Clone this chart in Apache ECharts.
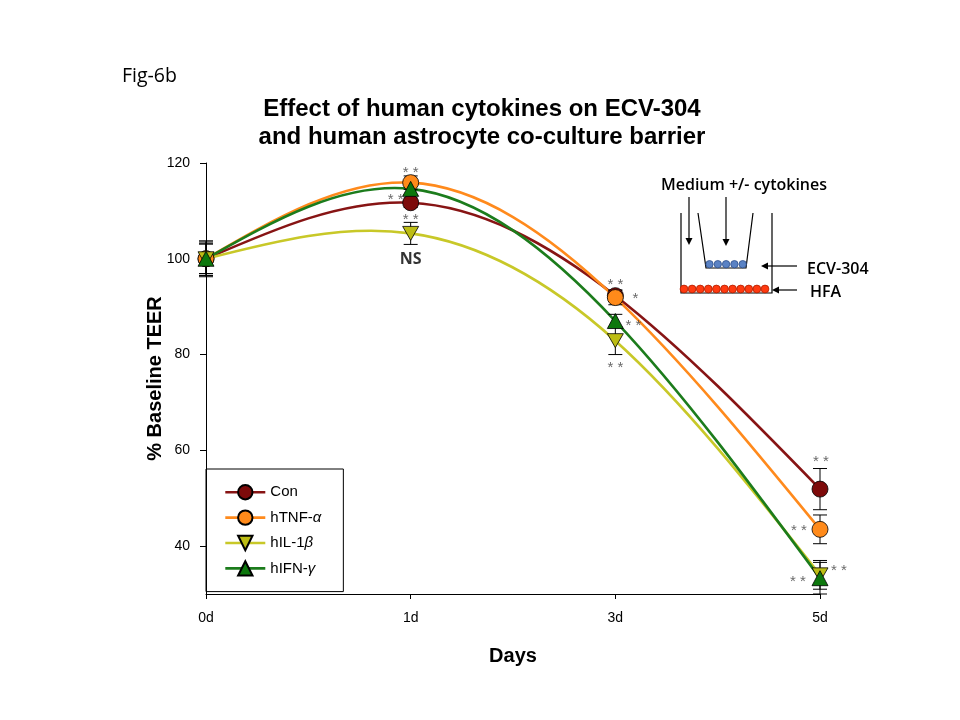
<!DOCTYPE html>
<html>
<head>
<meta charset="utf-8">
<script src="https://cdn.jsdelivr.net/npm/echarts@6/dist/echarts.min.js"></script>
<style>
html,body{margin:0;padding:0;background:#fff;}
#chart{width:960px;height:720px;}
</style>
</head>
<body>
<div id="chart"></div>
<script>
// ---------- data ----------
const days = ['0d', '1d', '3d', '5d'];
const seriesNames = ['Con', 'hTNF-α', 'hIL-1β', 'hIFN-γ'];
const conValues  = [100, 111.7, 92.3, 51.9];
const conErrors  = [3.5, 1.0, 1.2, 4.3];
const tnfValues  = [100, 115.9, 91.9, 43.5];
const tnfErrors  = [3.1, 1.4, 1.5, 3.0];
const il1bValues = [100, 105.3, 82.9, 34.0];
const il1bErrors = [3.1, 2.3, 2.9, 3.0];
const ifngValues = [100, 114.6, 87.0, 33.3];
const ifngErrors = [3.75, 1.2, 1.4, 3.3];
const yTicks = [40, 60, 80, 100, 120];
// significance annotations: [series index, day index, text]
const annotations = [
  [1, 1, '**'], [0, 1, '**'], [2, 1, '**'], [2, 1, 'NS'],
  [1, 2, '**'], [1, 2, '*'], [3, 2, '**'], [2, 2, '**'],
  [0, 3, '**'], [1, 3, '**'], [3, 3, '**'], [3, 3, '**']
];

// ---------- layout / style ----------
const annotationOffsets = [
  [0, -10], [-15, -3], [0, -14], [0, 26],
  [0, -13], [20, 1], [18, 5], [0, 27],
  [1, -27], [-21, 2], [19, -7], [-22, 4]
];
const allValues = [conValues, tnfValues, il1bValues, ifngValues];
const allErrors = [conErrors, tnfErrors, il1bErrors, ifngErrors];
const lineColors = ['#871414', '#ff8a1c', '#c8c828', '#1c7c1c'];
const fillColors = ['#7d0a0a', '#ff8a1a', '#bdbd14', '#0d780d'];
const symbols = ['circle', 'circle', 'path://M0,0L16,0L8,14Z', 'triangle'];
const symbolSizes = [16, 16, [16, 14], [16, 15]];
const FONT = 'Liberation Sans, Arial, sans-serif';
const LINE_WIDTH = 2.6;

// natural cubic spline (equal spacing) -> bezier control points in pixel space
function naturalSplineBeziers(pts) {
  const n = pts.length;
  const y = pts.map(p => p[1]);
  const M = new Array(n).fill(0);
  if (n > 2) {
    const a = [], b = [], c = [], d = [];
    for (let i = 1; i < n - 1; i++) {
      a.push(1); b.push(4); c.push(1);
      d.push(6 * (y[i - 1] - 2 * y[i] + y[i + 1]));
    }
    const m = d.length;
    for (let i = 1; i < m; i++) {
      const w = a[i] / b[i - 1];
      b[i] -= w * c[i - 1];
      d[i] -= w * d[i - 1];
    }
    const sol = new Array(m);
    sol[m - 1] = d[m - 1] / b[m - 1];
    for (let i = m - 2; i >= 0; i--) sol[i] = (d[i] - c[i] * sol[i + 1]) / b[i];
    for (let i = 0; i < m; i++) M[i + 1] = sol[i];
  }
  const segs = [];
  for (let i = 0; i < n - 1; i++) {
    const dy = y[i + 1] - y[i];
    const s0 = dy - (2 * M[i] + M[i + 1]) / 6;
    const s1 = dy + (M[i] + 2 * M[i + 1]) / 6;
    const hx = pts[i + 1][0] - pts[i][0];
    segs.push({
      x1: pts[i][0], y1: pts[i][1],
      cpx1: pts[i][0] + hx / 3, cpy1: pts[i][1] + s0 / 3,
      cpx2: pts[i + 1][0] - hx / 3, cpy2: pts[i + 1][1] - s1 / 3,
      x2: pts[i + 1][0], y2: pts[i + 1][1]
    });
  }
  return segs;
}

const curveSeries = allValues.map((vals, k) => ({
  type: 'custom',
  silent: true,
  z: 2,
  encode: { x: 0, y: 1 },
  data: vals.map((v, i) => [i, v]),
  renderItem: function (params, api) {
    if (params.dataIndex !== 0) return null;
    const pts = vals.map((v, i) => api.coord([i, v]));
    const segs = naturalSplineBeziers(pts);
    return {
      type: 'group',
      children: segs.map(s => ({
        type: 'bezierCurve',
        shape: s,
        style: { stroke: lineColors[k], lineWidth: LINE_WIDTH, fill: null, lineCap: 'round' }
      }))
    };
  }
}));

const lineSeries = seriesNames.map((name, k) => ({
  name: name,
  type: 'line',
  data: allValues[k],
  symbol: symbols[k],
  symbolSize: symbolSizes[k],
  showAllSymbol: true,
  lineStyle: { color: lineColors[k], width: LINE_WIDTH, opacity: 0 },
  itemStyle: { color: fillColors[k], borderColor: '#000', borderWidth: 0.8 },
  z: 4 + k
}));

const errorSeries = allValues.map((vals, k) => ({
  type: 'custom',
  silent: true,
  z: 3,
  encode: { x: 0, y: 1 },
  data: vals.map((v, i) => [i, v, allErrors[k][i]]),
  renderItem: function (params, api) {
    const i = api.value(0), v = api.value(1), e = api.value(2);
    const top = api.coord([i, v + e]);
    const bot = api.coord([i, v - e]);
    const hw = 7;
    const st = { stroke: '#000', lineWidth: 1 };
    return {
      type: 'group',
      children: [
        { type: 'line', shape: { x1: top[0], y1: top[1], x2: bot[0], y2: bot[1] }, style: st },
        { type: 'line', shape: { x1: top[0] - hw, y1: top[1], x2: top[0] + hw, y2: top[1] }, style: st },
        { type: 'line', shape: { x1: bot[0] - hw, y1: bot[1], x2: bot[0] + hw, y2: bot[1] }, style: st }
      ]
    };
  }
}));

const annotationSeries = {
  type: 'scatter',
  silent: true,
  symbolSize: 0,
  z: 10,
  data: annotations.map((a, n) => ({
    value: [a[1], allValues[a[0]][a[1]]],
    label: {
      show: true,
      position: 'inside',
      formatter: a[2] === 'NS' ? 'NS' : a[2].split('').join(' '),
      offset: annotationOffsets[n],
      color: a[2] === 'NS' ? '#000' : '#444',
      fontWeight: a[2] === 'NS' ? 'bold' : 'normal',
      fontSize: a[2] === 'NS' ? 16 : 15,
      fontFamily: a[2] === 'NS' ? '"Open Sans", sans-serif' : FONT
    }
  }))
};

// inset diagram helpers (decorative drawing)
function arrow(x1, y1, x2, y2) {
  const dx = x2 - x1, dy = y2 - y1, len = Math.sqrt(dx * dx + dy * dy);
  const ux = dx / len, uy = dy / len, hl = 7, hw = 3.5;
  const bx = x2 - ux * hl, by = y2 - uy * hl;
  return [
    { type: 'line', shape: { x1: x1, y1: y1, x2: bx, y2: by }, style: { stroke: '#000', lineWidth: 1.2 } },
    { type: 'polygon', shape: { points: [[x2, y2], [bx - uy * hw, by + ux * hw], [bx + uy * hw, by - ux * hw]] }, style: { fill: '#000' } }
  ];
}
const INSET_FONT = '600 16px "Open Sans", sans-serif';
const insetGraphics = [];
insetGraphics.push({ type: 'text', x: 744, y: 185, style: { text: 'Medium +/- cytokines', font: INSET_FONT, fill: '#000', align: 'center', verticalAlign: 'middle' } });
insetGraphics.push(...arrow(689, 197, 689, 245));
insetGraphics.push(...arrow(726, 197, 726, 246));
insetGraphics.push({ type: 'polyline', shape: { points: [[681, 213], [681, 293], [772, 293], [772, 213]] }, style: { stroke: '#000', lineWidth: 1.2, fill: null } });
insetGraphics.push({ type: 'polyline', shape: { points: [[698, 213], [706, 268], [746, 268], [753, 213]] }, style: { stroke: '#000', lineWidth: 1.2, fill: null } });
for (let i = 0; i < 5; i++) {
  insetGraphics.push({ type: 'circle', shape: { cx: 709.5 + i * 8.3, cy: 264.2, r: 3.7 }, style: { fill: '#5a82c4', stroke: '#2e4f8a', lineWidth: 0.8 } });
}
for (let i = 0; i < 11; i++) {
  insetGraphics.push({ type: 'circle', shape: { cx: 684 + i * 8.1, cy: 289, r: 3.9 }, style: { fill: '#ff3a10', stroke: '#b02000', lineWidth: 0.8 } });
}
insetGraphics.push(...arrow(797, 266, 761, 266));
insetGraphics.push(...arrow(797, 290, 772, 290));
insetGraphics.push({ type: 'text', x: 807, y: 269, style: { text: 'ECV-304', font: INSET_FONT, fill: '#000', align: 'left', verticalAlign: 'middle' } });
insetGraphics.push({ type: 'text', x: 810, y: 292, style: { text: 'HFA', font: INSET_FONT, fill: '#000', align: 'left', verticalAlign: 'middle' } });
insetGraphics.push({ type: 'text', x: 122, y: 76, style: { text: 'Fig-6b', font: '19.5px "Open Sans", sans-serif', fill: '#000', align: 'left', verticalAlign: 'middle' } });

const chart = echarts.init(document.getElementById('chart'), null, { renderer: 'canvas' });
chart.setOption({
  animation: false,
  backgroundColor: '#fff',
  title: {
    text: 'Effect of human cytokines on ECV-304\nand human astrocyte co-culture barrier',
    left: 477,
    top: 90,
    textAlign: 'center',
    textStyle: { fontFamily: FONT, fontSize: 24, fontWeight: 'bold', color: '#000', lineHeight: 28 }
  },
  grid: { left: 206, right: 140, top: 163, bottom: 126, containLabel: false },
  legend: {
    data: seriesNames,
    orient: 'vertical',
    left: 206,
    top: 469,
    padding: [15, 22, 15, 18],
    itemGap: 9,
    itemWidth: 40,
    itemHeight: 18,
    borderColor: '#000',
    borderWidth: 1,
    lineStyle: { width: LINE_WIDTH, opacity: 1 },
    formatter: function (name) {
      const m = name.match(/^(.*?)([αβγ])$/);
      return m ? m[1] + '{g|' + m[2] + '}' : name;
    },
    textStyle: {
      fontFamily: FONT, fontSize: 15, color: '#000',
      rich: { g: { fontFamily: FONT, fontSize: 15, fontStyle: 'italic', color: '#000' } }
    }
  },
  xAxis: {
    type: 'category',
    data: days,
    boundaryGap: false,
    name: 'Days',
    nameLocation: 'middle',
    nameGap: 52,
    nameMoveOverlap: false,
    nameTextStyle: { fontFamily: FONT, fontSize: 20, fontWeight: 'bold', color: '#000' },
    axisLine: { lineStyle: { color: '#000', width: 1 } },
    axisTick: { show: true, length: 5, alignWithLabel: true, lineStyle: { color: '#000' } },
    axisLabel: { margin: 17, fontFamily: FONT, fontSize: 14, color: '#000' },
    splitLine: { show: false }
  },
  yAxis: {
    type: 'value',
    min: 30,
    max: 120,
    name: '% Baseline TEER',
    nameLocation: 'middle',
    nameGap: 41,
    nameMoveOverlap: false,
    nameTextStyle: { fontFamily: FONT, fontSize: 20, fontWeight: 'bold', color: '#000' },
    axisLine: { show: true, lineStyle: { color: '#000', width: 1 } },
    axisTick: { show: true, length: 6, customValues: yTicks, lineStyle: { color: '#000' } },
    axisLabel: { margin: 16, customValues: yTicks, fontFamily: FONT, fontSize: 14, color: '#000' },
    splitLine: { show: false }
  },
  graphic: insetGraphics,
  series: [...curveSeries, ...errorSeries, ...lineSeries, annotationSeries]
});
</script>
</body>
</html>
